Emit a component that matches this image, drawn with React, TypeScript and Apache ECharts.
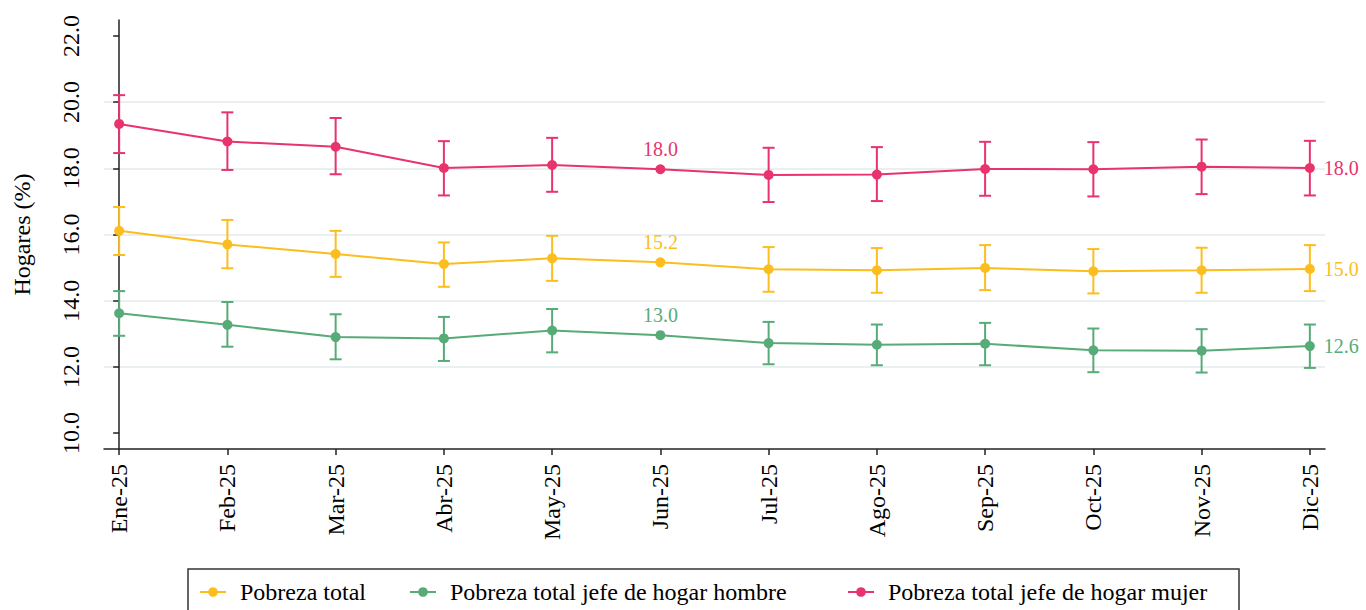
import React, { useEffect, useRef } from "react";
import * as echarts from "echarts";

const months = ["Ene-25", "Feb-25", "Mar-25", "Abr-25", "May-25", "Jun-25", "Jul-25", "Ago-25", "Sep-25", "Oct-25", "Nov-25", "Dic-25"];
const yTicks = [10, 12, 14, 16, 18, 20, 22];
const gridValues = [12, 14, 16, 18, 20];

const totalVal = [16.11, 15.70, 15.41, 15.11, 15.28, 15.16, 14.95, 14.92, 14.99, 14.89, 14.92, 14.96];
const totalLo = [15.38, 14.98, 14.72, 14.42, 14.60, null, 14.27, 14.24, 14.32, 14.22, 14.24, 14.29];
const totalHi = [16.83, 16.44, 16.11, 15.76, 15.96, null, 15.62, 15.59, 15.68, 15.56, 15.60, 15.68];

const hombreVal = [13.62, 13.27, 12.90, 12.86, 13.10, 12.96, 12.72, 12.67, 12.70, 12.50, 12.49, 12.63];
const hombreLo = [12.94, 12.61, 12.23, 12.18, 12.44, null, 12.08, 12.05, 12.05, 11.84, 11.83, 11.97];
const hombreHi = [14.29, 13.96, 13.59, 13.51, 13.75, null, 13.36, 13.28, 13.33, 13.16, 13.14, 13.28];

const mujerVal = [19.34, 18.81, 18.65, 18.01, 18.10, 17.97, 17.80, 17.81, 17.98, 17.97, 18.05, 18.01];
const mujerLo = [18.46, 17.95, 17.82, 17.18, 17.29, null, 16.98, 17.01, 17.17, 17.15, 17.22, 17.18];
const mujerHi = [20.21, 19.69, 19.52, 18.82, 18.92, null, 18.62, 18.64, 18.80, 18.79, 18.87, 18.83];

const names = ["Pobreza total", "Pobreza total jefe de hogar hombre", "Pobreza total jefe de hogar mujer"];
const colors = ["#FCBE1E", "#56AB77", "#E8336C"];
const legendLefts = [199, 409, 847];

const FONT = "'Liberation Serif', 'Times New Roman', serif";

export default function App() {
  const ref = useRef<HTMLDivElement>(null);
  useEffect(() => {
    if (!ref.current) return;
    const chart = echarts.init(ref.current, undefined, { renderer: "svg" });

    const txt = (size: number, color = "#000") => ({ fontFamily: FONT, fontSize: size, color, fontWeight: "normal" as const });

    const lineSeries = (name: string, vals: number[], color: string, withGrid: boolean) => ({
      name,
      type: "line",
      symbol: "circle",
      symbolSize: 10,
      z: 3,
      lineStyle: { color, width: 2 },
      itemStyle: { color },
      data: vals.map((v, i) => {
        const d: any = { value: [i, v] };
        if (i === 5) d.label = { show: true, position: "top", distance: 5 };
        if (i === 11) d.label = { show: true, position: "right", distance: 9 };
        return d;
      }),
      label: {
        show: false,
        ...txt(20, color),
        formatter: (p: any) => Number(p.value[1]).toFixed(1),
      },
      markLine: withGrid
        ? {
            silent: true,
            symbol: "none",
            label: { show: false },
            lineStyle: { color: "#EAEFF2", width: 2, type: "solid" },
            data: gridValues.map((g) => ({ yAxis: g })),
            z: 0,
          }
        : undefined,
    });

    const errSeries = (vals: number[], lo: (number | null)[], hi: (number | null)[], color: string) => ({
      type: "custom",
      silent: true,
      z: 2,
      data: vals
        .map((_, i) => (lo[i] == null || hi[i] == null ? null : [i, lo[i], hi[i]]))
        .filter((d) => d !== null),
      encode: { x: 0, y: [1, 2] },
      renderItem: (params: any, api: any) => {
        const x = api.value(0);
        const a = api.coord([x, api.value(1)]);
        const b = api.coord([x, api.value(2)]);
        const w = 6;
        const st = { stroke: color, lineWidth: 2 };
        return {
          type: "group",
          children: [
            { type: "line", shape: { x1: a[0], y1: a[1], x2: b[0], y2: b[1] }, style: st },
            { type: "line", shape: { x1: a[0] - w, y1: a[1], x2: a[0] + w, y2: a[1] }, style: st },
            { type: "line", shape: { x1: b[0] - w, y1: b[1], x2: b[0] + w, y2: b[1] }, style: st },
          ],
        };
      },
    });

    chart.setOption({
      animation: false,
      backgroundColor: "#ffffff",
      textStyle: { fontFamily: FONT, fontSize: 24 },
      grid: { left: 104, right: 41, top: 20, bottom: 161, containLabel: false, outerBoundsMode: "none" },
      legend: names.map((n, i) => ({
        data: [n],
        left: legendLefts[i],
        top: 580,
        itemWidth: 26,
        itemHeight: 12,
        padding: 0,
        textStyle: { ...txt(24), padding: [0, 0, 0, 9] },
      })),
      graphic: [
        {
          type: "rect",
          shape: { x: 188, y: 569, width: 1051, height: 60 },
          style: { fill: "none", stroke: "#333", lineWidth: 1.5 },
          silent: true,
        },
      ],
      xAxis: {
        type: "value",
        min: -0.14,
        max: 11.14,
        splitLine: { show: false },
        axisLine: { show: true, lineStyle: { color: "#222", width: 1.5 } },
        axisTick: { show: true, customValues: months.map((_, i) => i), length: 6, lineStyle: { color: "#222", width: 1.5 } },
        axisLabel: {
          customValues: months.map((_, i) => i),
          formatter: (v: number) => months[Math.round(v)] ?? "",
          rotate: 90,
          ...txt(24),
          margin: 15,
        },
      },
      yAxis: {
        type: "value",
        min: 9.52,
        max: 22.48,
        name: "Hogares (%)",
        nameLocation: "middle",
        nameRotate: 90,
        nameGap: 70,
        nameTextStyle: txt(24),
        splitLine: { show: false },
        axisLine: { show: true, lineStyle: { color: "#222", width: 1.5 } },
        axisTick: { show: true, customValues: yTicks, length: 6, lineStyle: { color: "#222", width: 1.5 } },
        axisLabel: {
          customValues: yTicks,
          formatter: (v: number) => v.toFixed(1),
          rotate: 90,
          ...txt(24),
          margin: 21,
        },
      },
      series: [
        lineSeries(names[0], totalVal, colors[0], true),
        lineSeries(names[1], hombreVal, colors[1], false),
        lineSeries(names[2], mujerVal, colors[2], false),
        errSeries(totalVal, totalLo, totalHi, colors[0]),
        errSeries(hombreVal, hombreLo, hombreHi, colors[1]),
        errSeries(mujerVal, mujerLo, mujerHi, colors[2]),
      ],
    });
    return () => chart.dispose();
  }, []);
  return <div ref={ref} style={{ position: "fixed", left: 0, top: 0, width: 1366, height: 610 }} />;
}
